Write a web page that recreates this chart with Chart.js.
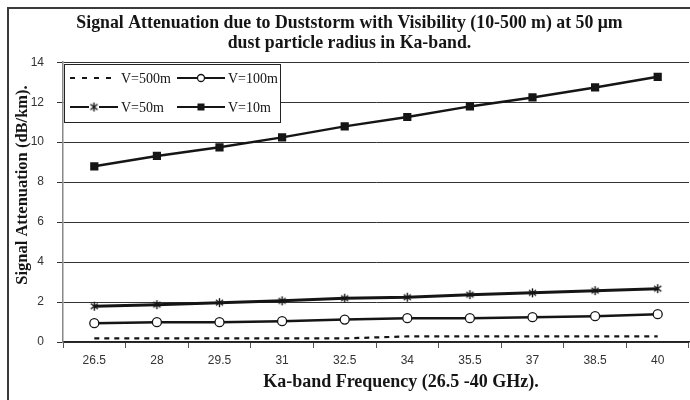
<!DOCTYPE html>
<html>
<head>
<meta charset="utf-8">
<script src="https://cdn.jsdelivr.net/npm/chart.js@4"></script>
<style>
  html, body { margin: 0; padding: 0; background: #fff; }
  #wrap { width: 690px; height: 400px; position: relative; }
</style>
</head>
<body>
<div id="wrap"><canvas id="grafico" width="690" height="400"></canvas></div>
<script>
// Datos
const frecuencias = ['26.5', '28', '29.5', '31', '32.5', '34', '35.5', '37', '38.5', '40'];
const v500m = [0.18, 0.18, 0.18, 0.18, 0.18, 0.28, 0.28, 0.28, 0.28, 0.28];
const v100m = [0.94, 0.99, 0.99, 1.04, 1.12, 1.19, 1.19, 1.24, 1.29, 1.39];
const v50m = [1.79, 1.87, 1.97, 2.06, 2.19, 2.24, 2.37, 2.46, 2.57, 2.67];
const v10m = [8.79, 9.31, 9.74, 10.24, 10.79, 11.26, 11.79, 12.24, 12.74, 13.27];
const yTicks = [0, 2, 4, 6, 8, 10, 12, 14];

const SERIF = '"Liberation Serif", "Times New Roman", serif';
const SANS = '"Liberation Sans", Arial, sans-serif';
const NEGRO = '#151515';

// asterisco (x con raya vertical) como pointStyle
function crearAsterisco(size) {
  const c = document.createElement('canvas');
  c.width = size; c.height = size;
  const g = c.getContext('2d');
  const m = size / 2, r = size / 2 - 1;
  g.strokeStyle = NEGRO;
  g.lineWidth = 1.4;
  g.beginPath();
  g.moveTo(m, m - r); g.lineTo(m, m + r);
  g.moveTo(m - r * 0.8, m - r * 0.6); g.lineTo(m + r * 0.8, m + r * 0.6);
  g.moveTo(m - r * 0.8, m + r * 0.6); g.lineTo(m + r * 0.8, m - r * 0.6);
  g.stroke();
  return c;
}
const asterisco = crearAsterisco(11);

function marcador(ctx, tipo, x, y) {
  ctx.save();
  ctx.setLineDash([]);
  if (tipo === 'circle') {
    ctx.beginPath();
    ctx.arc(x, y, 3.5, 0, Math.PI * 2);
    ctx.fillStyle = '#fff';
    ctx.fill();
    ctx.lineWidth = 1.3;
    ctx.strokeStyle = NEGRO;
    ctx.stroke();
  } else if (tipo === 'rect') {
    ctx.fillStyle = NEGRO;
    ctx.fillRect(x - 3.5, y - 3.5, 7, 7);
  } else if (tipo === 'star') {
    ctx.fillStyle = '#fff';
    ctx.fillRect(x - 5, y - 5, 10, 10);
    ctx.drawImage(asterisco, x - 5.5, y - 5.5);
  }
  ctx.restore();
}

const decoracion = {
  id: 'decoracion',
  beforeDraw(chart) {
    const ctx = chart.ctx;
    ctx.save();
    ctx.fillStyle = '#fff';
    ctx.fillRect(0, 0, chart.width, chart.height);
    // marco exterior (recortado a la derecha y abajo)
    ctx.strokeStyle = '#3a3a3a';
    ctx.lineWidth = 2;
    ctx.beginPath();
    ctx.moveTo(8, 400);
    ctx.lineTo(8, 8);
    ctx.lineTo(690, 8);
    ctx.stroke();
    ctx.restore();
  },
  afterDraw(chart) {
    const ctx = chart.ctx;
    ctx.save();
    // títulos de ejes
    ctx.fillStyle = NEGRO;
    ctx.textAlign = 'center';
    ctx.textBaseline = 'middle';
    ctx.font = 'bold 18px ' + SERIF;
    ctx.fillText('Ka-band Frequency (26.5 -40 GHz).', 401, 382);
    ctx.font = 'bold 16.5px ' + SERIF;
    ctx.translate(23, 185);
    ctx.rotate(-Math.PI / 2);
    ctx.fillText('Signal Attenuation (dB/km).', 0, 0);
    ctx.restore();

    // leyenda dentro del área del gráfico
    ctx.save();
    ctx.fillStyle = '#fff';
    ctx.fillRect(64, 64, 217, 59);
    ctx.strokeStyle = '#222';
    ctx.lineWidth = 1;
    ctx.strokeRect(64.5, 64.5, 216, 58);
    const items = [
      { ds: 0, x: 70, y: 78 },
      { ds: 1, x: 177, y: 78 },
      { ds: 2, x: 70, y: 107 },
      { ds: 3, x: 177, y: 107 }
    ];
    items.forEach(it => {
      const ds = chart.data.datasets[it.ds];
      ctx.strokeStyle = NEGRO;
      ctx.lineWidth = 2;
      ctx.setLineDash(ds.borderDash ? [5, 7] : []);
      ctx.beginPath();
      ctx.moveTo(it.x, it.y);
      ctx.lineTo(it.x + 48, it.y);
      ctx.stroke();
      ctx.setLineDash([]);
      if (ds.marcador) marcador(ctx, ds.marcador, it.x + 24, it.y);
      ctx.fillStyle = NEGRO;
      ctx.font = '14px ' + SERIF;
      ctx.textAlign = 'left';
      ctx.textBaseline = 'middle';
      ctx.fillText(ds.label, it.x + 51, it.y + 1);
    });
    ctx.restore();
  }
};

const ctx = document.getElementById('grafico').getContext('2d');

new Chart(ctx, {
  type: 'line',
  data: {
    labels: frecuencias,
    datasets: [
      {
        label: 'V=500m',
        data: v500m,
        borderColor: NEGRO,
        borderWidth: 2.2,
        borderDash: [5, 5],
        pointRadius: 0,
        tension: 0
      },
      {
        label: 'V=100m',
        data: v100m,
        borderColor: NEGRO,
        borderWidth: 2.5,
        pointStyle: 'circle',
        pointRadius: 4.5,
        pointBorderWidth: 1.3,
        pointBackgroundColor: '#fff',
        pointBorderColor: NEGRO,
        marcador: 'circle',
        tension: 0
      },
      {
        label: 'V=50m',
        data: v50m,
        borderColor: NEGRO,
        borderWidth: 3,
        pointStyle: asterisco,
        pointRadius: 5,
        marcador: 'star',
        tension: 0
      },
      {
        label: 'V=10m',
        data: v10m,
        borderColor: NEGRO,
        borderWidth: 2.5,
        pointStyle: 'rect',
        pointRadius: 5.8,
        pointBackgroundColor: NEGRO,
        pointBorderColor: NEGRO,
        pointBorderWidth: 0,
        marcador: 'rect',
        tension: 0
      }
    ]
  },
  options: {
    responsive: false,
    animation: false,
    layout: {
      autoPadding: false,
      padding: { top: 10, left: 10, right: 1, bottom: 0 }
    },
    plugins: {
      legend: { display: false },
      tooltip: { enabled: false },
      title: {
        display: true,
        text: [
          'Signal Attenuation due to Duststorm with Visibility (10-500 m) at 50 \u03bcm',
          'dust particle radius in Ka-band.'
        ],
        color: NEGRO,
        font: { family: SERIF, size: 17.8, weight: 'bold', lineHeight: 1.13 },
        padding: { top: 3, bottom: 9 }
      }
    },
    scales: {
      x: {
        offset: true,
        afterFit: s => {
          s.height = 58;
          s.paddingLeft = 0;
          s.paddingRight = 0;
        },
        grid: {
          offset: true,
          drawOnChartArea: false,
          drawTicks: true,
          tickLength: 6,
          color: '#555'
        },
        border: { color: '#222', width: 1.5 },
        ticks: {
          color: '#333',
          font: { family: SANS, size: 12 },
          padding: 5,
          maxRotation: 0,
          autoSkip: false
        }
      },
      y: {
        min: 0,
        max: 14,
        afterFit: s => { s.width = 53; },
        afterBuildTicks: s => { s.ticks = yTicks.map(v => ({ value: v })); },
        grid: {
          color: '#333',
          lineWidth: 1,
          tickLength: 6
        },
        border: { color: '#888', width: 1.5 },
        ticks: {
          color: '#333',
          font: { family: SANS, size: 12 },
          padding: 13
        }
      }
    }
  },
  plugins: [decoracion]
});
</script>
</body>
</html>
